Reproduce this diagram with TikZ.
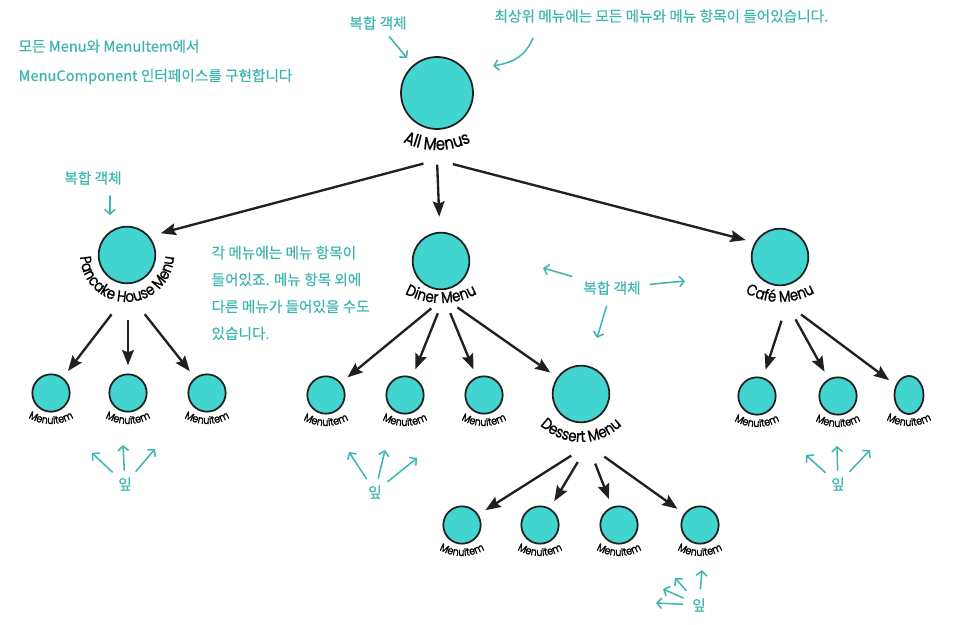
\documentclass[tikz,border=0pt]{standalone}
\usepackage{fontspec}
\newfontfamily\notefont[FakeBold=0.5]{Noto Sans CJK KR}
\newfontfamily\handfont[FakeStretch=0.85, FakeBold=0.8]{Poppins}
\usepackage{tikz}
\usetikzlibrary{arrows.meta,calc,decorations.text,shapes.geometric}

\definecolor{menucyan}{RGB}{66,212,207}
\definecolor{notecyan}{RGB}{62,182,176}
\definecolor{rimgray}{RGB}{32,32,32}

\newcommand\bigfont{\handfont\fontsize{15pt}{15pt}\selectfont}
\newcommand\menufont{\handfont\fontsize{13.5pt}{13.5pt}\selectfont}
\newcommand\itemfont{\handfont\fontsize{9.5pt}{9.5pt}\selectfont}

% bent label under a circle: node, depth, radius, half angle, text
\newcommand\arclabel[5]{%
  \path[decorate, decoration={text along path, text align=center, text={#5}}]
    ($(#1)+(0,#2-#3)+(90+#4:#3)$) arc[start angle=90+#4, end angle=90-#4, radius=#3];}

\begin{document}
\begin{tikzpicture}[
  x=0.03cm, y=-0.03cm,
  top/.style={circle, draw=rimgray, line width=1.5pt, fill=menucyan, minimum size=2.16cm, inner sep=0pt},
  menu/.style={top, minimum size=1.7cm},
  leafitem/.style={top, minimum size=1.12cm},
  arr/.style={-{Stealth[length=13pt, width=10pt, inset=2pt]}, line width=2pt, draw=rimgray},
  note/.style={font=\notefont\fontsize{12.5pt}{23pt}\selectfont, text=notecyan, inner sep=2pt, align=left},
  narr/.style={-{Straight Barb[length=4pt, width=9pt]}, line width=1.3pt, draw=notecyan, line cap=round}
]
\fill[white] (0,0) rectangle (956,625);
\useasboundingbox (0,0) rectangle (956,625);

% menus
\node[top] (all) at (437,93) {};
\node[menu] (pancake) at (127,255) {};
\node[menu] (diner) at (441,261) {};
\node[menu] (cafe) at (780,257) {};
\node[menu] (dessert) at (581,394) {};

% menu items
\node[leafitem] (p1) at (51,393) {};
\node[leafitem] (p2) at (128,393) {};
\node[leafitem] (p3) at (207,393) {};
\node[leafitem] (d1) at (326,395) {};
\node[leafitem] (d2) at (405,395) {};
\node[leafitem] (d3) at (484,395) {};
\node[leafitem] (e1) at (462,525) {};
\node[leafitem] (e2) at (540,525) {};
\node[leafitem] (e3) at (619,525) {};
\node[leafitem] (e4) at (700,525) {};
\node[leafitem] (c1) at (757,396) {};
\node[leafitem] (c2) at (838,396) {};
\node[leafitem, ellipse, minimum width=0.87cm, minimum height=1.14cm] (c3) at (909,395) {};

% labels
\arclabel{all}{57}{75}{45}{|\bigfont|All Menus}
\arclabel{pancake}{47}{47}{95}{|\menufont|Pancake House Menu}
\arclabel{diner}{42}{75}{45}{|\menufont|Diner Menu}
\arclabel{cafe}{45}{70}{45}{|\menufont|Café Menu}
\arclabel{dessert}{48}{58}{60}{|\menufont|Dessert Menu}
\foreach \n in {p1,p2,p3,d1,d2,d3,e1,e2,e3,e4,c1,c2,c3}
  \arclabel{\n}{31}{45}{50}{|\itemfont|MenuItem};

% arrows
\coordinate (all-hub) at (437,160);
\coordinate (pancake-hub) at (128,293);
\coordinate (diner-hub) at (444,298);
\coordinate (dessert-hub) at (588,445);
\coordinate (cafe-hub) at (787,304);

\draw[arr, shorten <=12pt, shorten >=10pt] (all-hub) -- (pancake.40);
\draw[arr, shorten <=4pt, shorten >=13pt] (all-hub) -- (diner);
\draw[arr, shorten <=14pt, shorten >=8pt] (all-hub) -- (cafe.150);

\draw[arr, shorten <=23pt, shorten >=7pt] (pancake-hub) -- (p1);
\draw[arr, shorten <=23pt, shorten >=7pt] (pancake-hub) -- (p2);
\draw[arr, shorten <=23pt, shorten >=7pt] (pancake-hub) -- (p3);

\draw[arr, shorten <=14pt, shorten >=7pt] (diner-hub) -- (d1);
\draw[arr, shorten <=14pt, shorten >=7pt] (diner-hub) -- (d2);
\draw[arr, shorten <=14pt, shorten >=7pt] (diner-hub) -- (d3);
\draw[arr, shorten <=14pt, shorten >=7pt] (diner-hub) -- (dessert);

\draw[arr, shorten <=17pt, shorten >=7pt] (dessert-hub) -- (e1);
\draw[arr, shorten <=17pt, shorten >=7pt] (dessert-hub) -- (e2);
\draw[arr, shorten <=17pt, shorten >=7pt] (dessert-hub) -- (e3);
\draw[arr, shorten <=17pt, shorten >=7pt] (dessert-hub) -- (e4);

\draw[arr, shorten <=15pt, shorten >=7pt] (cafe-hub) -- (c1);
\draw[arr, shorten <=15pt, shorten >=7pt] (cafe-hub) -- (c2);
\draw[arr, shorten <=15pt, shorten >=7pt] (cafe-hub) -- (c3);

% notes
\node[note, anchor=west] (menunote) at (16,62) {모든 Menu와 MenuItem에서\\[2pt]MenuComponent 인터페이스를 구현합니다};
\node[note, anchor=west] (topnote) at (492,16) {최상위 메뉴에는 모든 메뉴와 메뉴 항목이 들어있습니다.};
\node[note] (cplxtop) at (378,23) {복합 객체};
\node[note] (cplxleft) at (93,178) {복합 객체};
\node[note, anchor=west] (eachnote) at (209,293) {각 메뉴에는 메뉴 항목이\\들어있죠. 메뉴 항목 외에\\다른 메뉴가 들어있을 수도\\있습니다.};
\node[note] (cplxmid) at (612,288) {복합 객체};
\node[note] (leafp) at (125,484) {잎};
\node[note] (leafd) at (375,492) {잎};
\node[note] (leafc) at (838,484) {잎};
\node[note] (leafe) at (699,605) {잎};

\coordinate (topnote-tail) at (533,38);
\coordinate (topnote-tip) at (493,66);
\coordinate (cplxtop-tip) at (407,58);
\coordinate (cplxleft-tail) at (110,196);
\coordinate (cplxleft-tip) at (110,215);
\coordinate (cplxmid-1) at (543,268);
\coordinate (cplxmid-2) at (685,281);
\coordinate (cplxmid-3) at (597,338);
\coordinate (leafp-1) at (92,453);
\coordinate (leafp-2) at (123,445);
\coordinate (leafp-3) at (155,449);
\coordinate (leafd-1) at (349,452);
\coordinate (leafd-2) at (385,450);
\coordinate (leafd-3) at (417,458);
\coordinate (leafc-1) at (806,455);
\coordinate (leafc-2) at (837,446);
\coordinate (leafc-3) at (870,450);
\coordinate (leafe-1) at (702,570);
\coordinate (leafe-2) at (675,578);
\coordinate (leafe-3) at (663,589);
\coordinate (leafe-4) at (656,603);

\draw[narr] (topnote-tail) .. controls +(-8,18) and +(22,-4) .. (topnote-tip);
\draw[narr, shorten <=5pt] (cplxtop) -- (cplxtop-tip);
\draw[narr] (cplxleft-tail) -- (cplxleft-tip);
\draw[narr, shorten <=8pt] (cplxmid) -- (cplxmid-1);
\draw[narr, shorten <=6pt] (cplxmid) -- (cplxmid-2);
\draw[narr, shorten <=8pt] (cplxmid) -- (cplxmid-3);
\foreach \k in {1,2,3} {
  \draw[narr, shorten <=4pt] (leafp) -- (leafp-\k);
  \draw[narr, shorten <=4pt] (leafd) -- (leafd-\k);
  \draw[narr, shorten <=4pt] (leafc) -- (leafc-\k);
}
\foreach \k in {1,2,3,4}
  \draw[narr, shorten <=6pt] (leafe) -- (leafe-\k);

\end{tikzpicture}
\end{document}
